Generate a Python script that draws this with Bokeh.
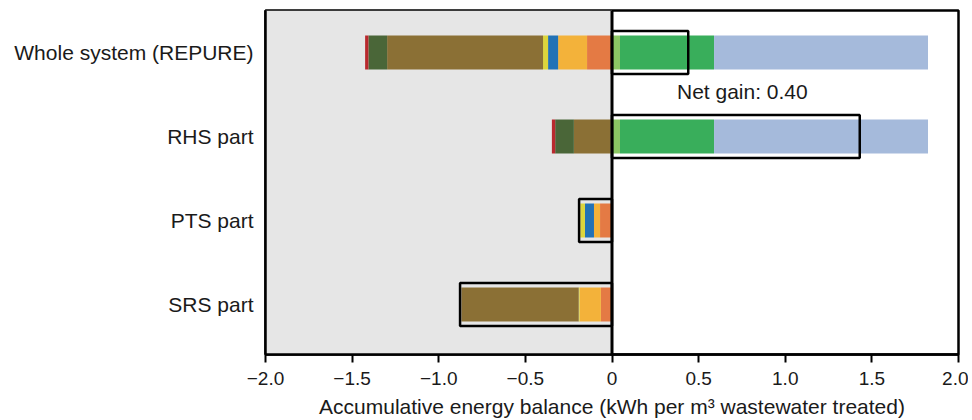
from bokeh.plotting import figure
from bokeh.models import (ColumnDataSource, Range1d, FixedTicker, BoxAnnotation,
                          Span, Label)
from bokeh.embed import file_html
from bokeh.resources import INLINE

# ---- data (kWh per m3 wastewater treated) ----
categories = ["Whole system (REPURE)", "RHS part", "PTS part", "SRS part"]
ypos = [4, 3, 2, 1]

# consumption (negative), listed from zero outward
orange     = [-0.144, 0.0,    -0.069, -0.064]
gold       = [-0.167, -0.008, -0.035, -0.123]
blue       = [-0.058, 0.0,    -0.052, 0.0]
yellow     = [-0.029, 0.0,    -0.027, -0.005]
brown      = [-0.900, -0.212, 0.0,    -0.677]
darkgreen  = [-0.108, -0.108, 0.0,    0.0]
red        = [-0.019, -0.019, 0.0,    0.0]
# production (positive)
lightgreen = [0.046, 0.046, 0.0, 0.0]
green      = [0.543, 0.543, 0.0, 0.0]
bluegray   = [1.235, 1.235, 0.0, 0.0]

# net boxes
box_left  = [0.0, 0.0, -0.19, -0.877]
box_right = [0.44, 1.43, 0.0, 0.0]

net_label = "Net gain: 0.40"

x_ticks = [-2.0, -1.5, -1.0, -0.5, 0.0, 0.5, 1.0, 1.5, 2.0]
x_tick_labels = ["\u22122.0", "\u22121.5", "\u22121.0", "\u22120.5", "0",
                 "0.5", "1.0", "1.5", "2.0"]

neg_names = ["orange", "gold", "blue", "yellow", "brown", "darkgreen", "red"]
neg_colors = ["#E47A44", "#F3B23A", "#2272B6", "#DCD53C", "#8B7035",
              "#4A6638", "#B9292E"]
pos_names = ["lightgreen", "green", "bluegray"]
pos_colors = ["#8CC763", "#39AE5B", "#A5BADB"]

BAR_H = 0.405
BOX_H = 0.51

src = ColumnDataSource(dict(
    y=ypos, orange=orange, gold=gold, blue=blue, yellow=yellow, brown=brown,
    darkgreen=darkgreen, red=red, lightgreen=lightgreen, green=green,
    bluegray=bluegray,
    bl=box_left, br=box_right,
    bb=[v - BOX_H / 2 for v in ypos], bt=[v + BOX_H / 2 for v in ypos],
))

FONT = "Liberation Sans"

p = figure(width=968, height=420, output_backend="svg", toolbar_location=None,
           x_range=Range1d(-2, 2), y_range=Range1d(0.405, 4.5),
           min_border_left=265, min_border_right=10, min_border_top=10,
           min_border_bottom=66)
p.background_fill_color = "white"
p.border_fill_color = "white"
p.outline_line_color = "black"
p.outline_line_width = 2.5
p.xgrid.visible = False
p.ygrid.visible = False

p.add_layout(BoxAnnotation(right=0, fill_color="#E6E6E6", fill_alpha=1.0,
                           line_color=None, level="underlay"))

p.hbar_stack(neg_names, y="y", height=BAR_H, fill_color=neg_colors,
             line_color=None, source=src)
p.hbar_stack(pos_names, y="y", height=BAR_H, fill_color=pos_colors,
             line_color=None, source=src)

p.add_layout(Span(location=0, dimension="height", line_color="black",
                  line_width=3))

p.quad(left="bl", right="br", bottom="bb", top="bt", source=src,
       fill_color=None, line_color="black", line_width=2.5)

p.add_layout(Label(x=0.375, y=3.536, text=net_label, text_align="left",
                   text_baseline="middle", text_font=FONT,
                   text_font_size="21px", text_color="#1a1a1a"))

# axes
xa = p.xaxis[0]
xa.ticker = FixedTicker(ticks=x_ticks)
xa.major_label_overrides = {t: l for t, l in zip(x_ticks, x_tick_labels)}
xa.major_tick_out = 8
xa.major_tick_in = 0
xa.minor_tick_out = 0
xa.minor_tick_in = 0
xa.major_tick_line_width = 2
xa.major_tick_line_color = "black"
xa.axis_line_color = "black"
xa.axis_line_width = 2.5
xa.major_label_text_font = FONT
xa.major_label_text_font_size = "19px"
xa.major_label_text_color = "#1a1a1a"
xa.major_label_standoff = 9
xa.axis_label = "Accumulative energy balance (kWh per m\u00b3 wastewater treated)"
xa.axis_label_text_font = FONT
xa.axis_label_text_font_size = "21px"
xa.axis_label_text_font_style = "normal"
xa.axis_label_text_color = "#1a1a1a"
xa.axis_label_standoff = 7

ya = p.yaxis[0]
ya.ticker = FixedTicker(ticks=ypos)
ya.major_label_overrides = {v: c for v, c in zip(ypos, categories)}
ya.major_tick_out = 0
ya.major_tick_in = 0
ya.minor_tick_out = 0
ya.minor_tick_in = 0
ya.axis_line_color = "black"
ya.axis_line_width = 2.5
ya.major_label_text_font = FONT
ya.major_label_text_font_size = "21px"
ya.major_label_text_color = "#1a1a1a"
ya.major_label_standoff = 12

open("out.html", "w").write(file_html(p, INLINE))
